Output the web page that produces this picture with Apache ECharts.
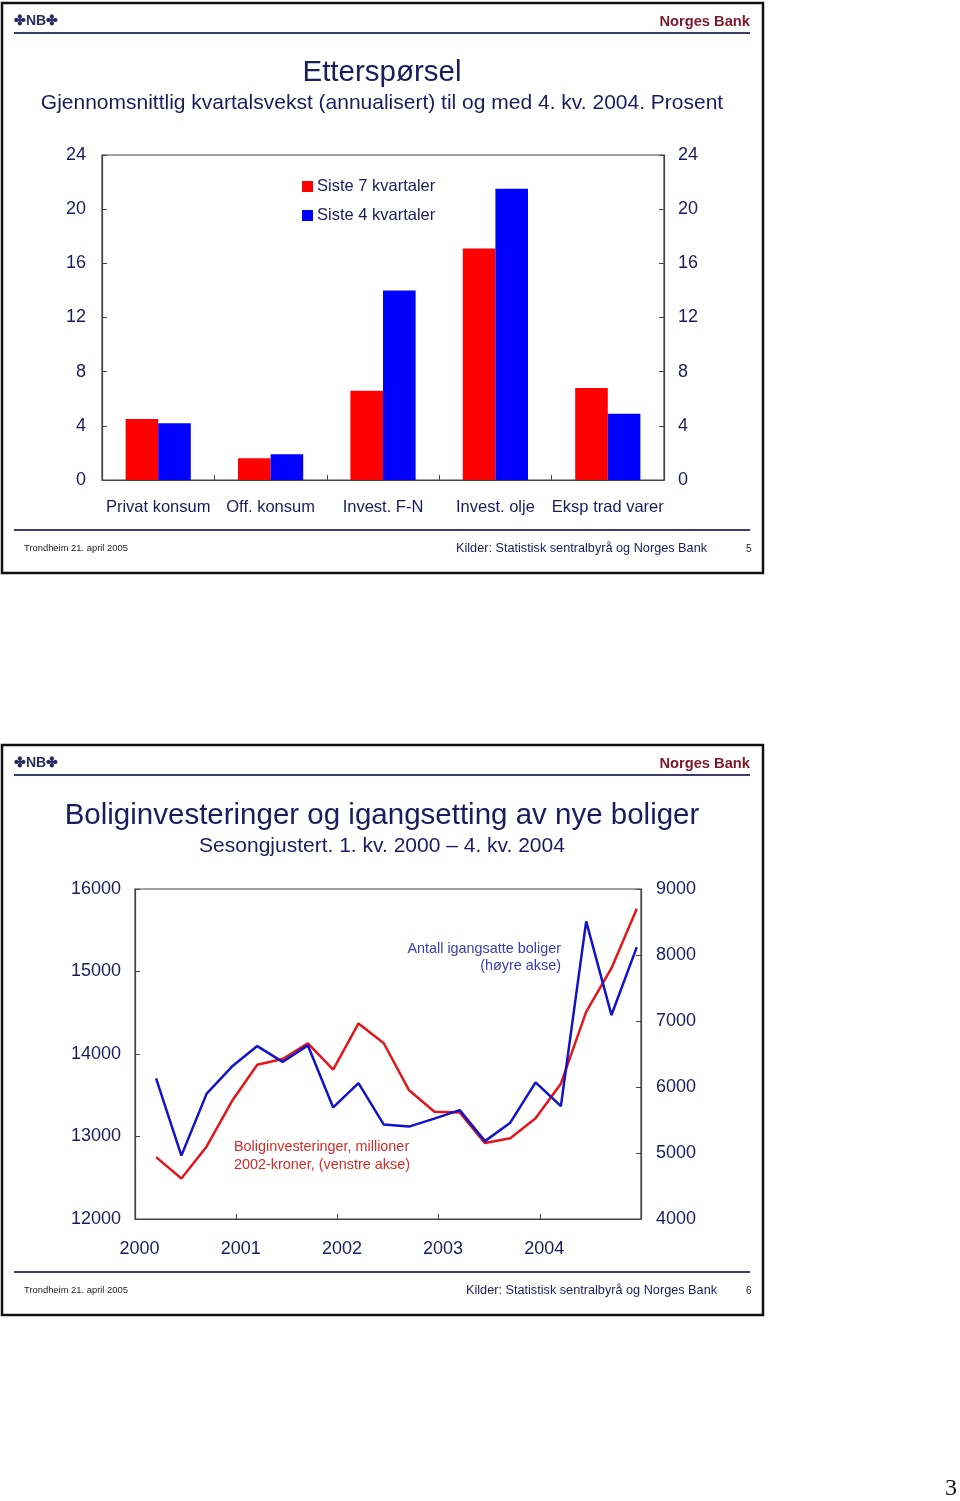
<!DOCTYPE html>
<html>
<head>
<meta charset="utf-8">
<title>Etterspørsel / Boliginvesteringer</title>
<script src="https://cdn.jsdelivr.net/npm/echarts@6/dist/echarts.min.js"></script>
<style>
  html, body { margin: 0; padding: 0; background: #fff; }
  #page { width: 960px; height: 1501px; }
</style>
</head>
<body>
<div id="page"></div>
<script>
// slide 5: etterspørsel, prosent
const barCats = ['Privat konsum', 'Off. konsum', 'Invest. F-N', 'Invest. olje', 'Eksp trad varer'];
const siste7 = [4.5, 1.6, 6.6, 17.1, 6.8];
const siste4 = [4.2, 1.9, 14.0, 21.5, 4.9];
const pctTicks = [0, 4, 8, 12, 16, 20, 24];

// slide 6: boliginvesteringer (venstre) og igangsatte boliger (høyre)
const quarters = [
  '2000K1', '2000K2', '2000K3', '2000K4',
  '2001K1', '2001K2', '2001K3', '2001K4',
  '2002K1', '2002K2', '2002K3', '2002K4',
  '2003K1', '2003K2', '2003K3', '2003K4',
  '2004K1', '2004K2', '2004K3', '2004K4'
];
const bolig = [12750, 12490, 12880, 13430, 13870, 13940, 14130, 13810, 14370, 14130,
               13560, 13300, 13290, 12920, 12980, 13220, 13640, 14510, 15040, 15760];
const igang = [6130, 4960, 5900, 6310, 6620, 6380, 6630, 5690, 6060, 5430,
               5400, 5520, 5650, 5180, 5460, 6070, 5710, 8510, 7090, 8120];
const boligTicks = [12000, 13000, 14000, 15000, 16000];
const igangTicks = [4000, 5000, 6000, 7000, 8000, 9000];
const yearTicks = [2000, 2001, 2002, 2003, 2004, 2005];

const NAVY = '#1b1b5e';
const FONT = '"Liberation Sans", Arial, sans-serif';

// kvartal -> desimalår (midt i siste måned i kvartalet, som Excel-datoakse)
const qToYear = s => +s.slice(0, 4) + (3 * +s.slice(5) - 0.5) / 12;

const chart = echarts.init(document.getElementById('page'), null, { renderer: 'canvas' });

// ramme, topp- og bunntekst for en lysbilde-side
function slideFrame(top, pageNo, kilderX) {
  const t = (text, x, y, font, fill, align) => ({
    type: 'text', x: x, y: y, silent: true,
    style: { text: text, font: font, fill: fill, align: align || 'left', verticalAlign: 'middle' }
  });
  return [
    { type: 'rect', shape: { x: 2, y: top, width: 761, height: 570 },
      style: { fill: 'none', stroke: '#111', lineWidth: 2.5 } },
    { type: 'line', shape: { x1: 14, y1: top + 30, x2: 750, y2: top + 30 },
      style: { stroke: '#3d3d70', lineWidth: 2 } },
    { type: 'line', shape: { x1: 14, y1: top + 527, x2: 750, y2: top + 527 },
      style: { stroke: '#3d3d70', lineWidth: 2 } },
    t('\u2724NB\u2724', 14, top + 18, 'bold 14px ' + FONT, '#2a2a60'),
    t('Norges Bank', 750, top + 19, 'bold 14.7px ' + FONT, '#7b1728', 'right'),
    t('Trondheim 21. april 2005', 24, top + 545, '9.4px ' + FONT, '#222'),
    t('Kilder: Statistisk sentralbyrå og Norges Bank', kilderX, top + 545, '12.7px ' + FONT, NAVY),
    t(String(pageNo), 746, top + 546, '10px ' + FONT, '#222')
  ];
}

const centred = (text, x, y, size) => ({
  type: 'text', x: x, y: y,
  style: { text: text, font: size + 'px ' + FONT, fill: NAVY, align: 'center', verticalAlign: 'middle' }
});

const graphics = [].concat(
  slideFrame(3, 5, 456),
  slideFrame(745, 6, 466),
  [
    centred('Etterspørsel', 382, 73, 29.5),
    centred('Gjennomsnittlig kvartalsvekst (annualisert) til og med 4. kv. 2004. Prosent', 382, 103, 21),
    centred('Boliginvesteringer og igangsetting av nye boliger', 382, 816, 29.5),
    centred('Sesongjustert. 1. kv. 2000 – 4. kv. 2004', 382, 846, 21),
    { type: 'text', x: 561, y: 949, style: { text: 'Antall igangsatte boliger', font: '14.4px ' + FONT, fill: '#3b3bb0', align: 'right', verticalAlign: 'middle' } },
    { type: 'text', x: 561, y: 966, style: { text: '(høyre akse)', font: '14.4px ' + FONT, fill: '#3b3bb0', align: 'right', verticalAlign: 'middle' } },
    { type: 'text', x: 234, y: 1147, style: { text: 'Boliginvesteringer, millioner', font: '14.4px ' + FONT, fill: '#d42a2a', align: 'left', verticalAlign: 'middle' } },
    { type: 'text', x: 234, y: 1165, style: { text: '2002-kroner, (venstre akse)', font: '14.4px ' + FONT, fill: '#d42a2a', align: 'left', verticalAlign: 'middle' } },
    { type: 'text', x: 951, y: 1489, style: { text: '3', font: '24px "Liberation Serif", "DejaVu Serif", serif', fill: '#111', align: 'center', verticalAlign: 'middle' } }
  ]
);

const plain = v => String(v);
const axisLabel = { color: NAVY, fontFamily: FONT, fontSize: 18, formatter: plain };
const frameLine = { show: true, lineStyle: { color: '#444', width: 1.2 } };
const innerTick = { show: true, inside: true, length: 5, lineStyle: { color: '#444', width: 1 } };

const option = {
  animation: false,
  backgroundColor: '#fff',
  textStyle: { fontFamily: FONT },
  graphic: graphics,
  grid: [
    { left: 102, top: 155, width: 562, height: 325, show: true, borderColor: '#444', borderWidth: 1.2, containLabel: false },
    { left: 135, top: 889, width: 506, height: 330, show: true, borderColor: '#444', borderWidth: 1.2, containLabel: false }
  ],
  legend: {
    data: ['Siste 7 kvartaler', 'Siste 4 kvartaler'],
    orient: 'vertical', left: 297, top: 173,
    itemWidth: 11, itemHeight: 11, itemGap: 12, icon: 'rect',
    textStyle: { color: NAVY, fontSize: 16.5, fontFamily: FONT, padding: [0, 0, 0, -1] }
  },
  xAxis: [
    {
      type: 'category', gridIndex: 0, data: barCats,
      axisLine: frameLine, axisTick: innerTick,
      axisLabel: { color: NAVY, fontFamily: FONT, fontSize: 16.5, margin: 19, interval: 0 }
    },
    {
      type: 'value', gridIndex: 1,
      min: yearTicks[0], max: yearTicks[yearTicks.length - 1], interval: 1,
      axisLine: frameLine, axisTick: innerTick, splitLine: { show: false },
      axisLabel: Object.assign({}, axisLabel, {
        margin: 21, padding: [0, 0, 0, 9],
        formatter: v => (v < yearTicks[yearTicks.length - 1] ? String(v) : '')
      })
    }
  ],
  yAxis: [
    {
      type: 'value', gridIndex: 0, position: 'left',
      min: pctTicks[0], max: pctTicks[pctTicks.length - 1], interval: pctTicks[1] - pctTicks[0],
      axisLine: frameLine, axisTick: innerTick, splitLine: { show: false },
      axisLabel: Object.assign({}, axisLabel, { margin: 16, padding: [3, 0, 0, 0] })
    },
    {
      type: 'value', gridIndex: 0, position: 'right',
      min: pctTicks[0], max: pctTicks[pctTicks.length - 1], interval: pctTicks[1] - pctTicks[0],
      axisLine: frameLine, axisTick: innerTick, splitLine: { show: false },
      axisLabel: Object.assign({}, axisLabel, { margin: 14, padding: [3, 0, 0, 0] })
    },
    {
      type: 'value', gridIndex: 1, position: 'left',
      min: boligTicks[0], max: boligTicks[boligTicks.length - 1], interval: boligTicks[1] - boligTicks[0],
      axisLine: frameLine, axisTick: innerTick, splitLine: { show: false },
      axisLabel: Object.assign({}, axisLabel, { margin: 14, padding: [3, 0, 0, 0] })
    },
    {
      type: 'value', gridIndex: 1, position: 'right',
      min: igangTicks[0], max: igangTicks[igangTicks.length - 1], interval: igangTicks[1] - igangTicks[0],
      axisLine: frameLine, axisTick: innerTick, splitLine: { show: false },
      axisLabel: Object.assign({}, axisLabel, { margin: 15, padding: [3, 0, 0, 0] })
    }
  ],
  series: [
    {
      name: 'Siste 7 kvartaler', type: 'bar', xAxisIndex: 0, yAxisIndex: 0,
      data: siste7, itemStyle: { color: '#ff0000' },
      barGap: '0%', barCategoryGap: '42%'
    },
    {
      name: 'Siste 4 kvartaler', type: 'bar', xAxisIndex: 0, yAxisIndex: 0,
      data: siste4, itemStyle: { color: '#0000ff' }
    },
    {
      name: 'Boliginvesteringer', type: 'line', xAxisIndex: 1, yAxisIndex: 2,
      data: quarters.map((q, i) => [qToYear(q), bolig[i]]),
      symbol: 'none', lineStyle: { color: '#e3171b', width: 2.5 }
    },
    {
      name: 'Igangsatte boliger', type: 'line', xAxisIndex: 1, yAxisIndex: 3,
      data: quarters.map((q, i) => [qToYear(q), igang[i]]),
      symbol: 'none', lineStyle: { color: '#1212c8', width: 2.5 }
    }
  ]
};

chart.setOption(option);
</script>
</body>
</html>
